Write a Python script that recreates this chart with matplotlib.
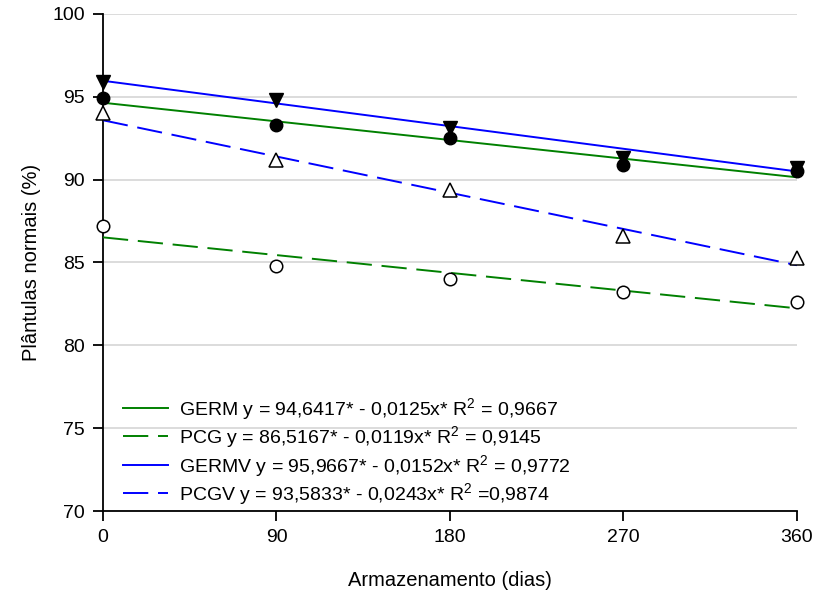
import matplotlib
matplotlib.use('Agg')
import matplotlib.pyplot as plt
import numpy as np

plt.rcParams['font.family'] = ['Liberation Sans', 'DejaVu Sans']
plt.rcParams['mathtext.fontset'] = 'custom'
plt.rcParams['mathtext.rm'] = 'Liberation Sans'
plt.rcParams['mathtext.it'] = 'Liberation Sans:italic'

# storage days
dias = [0, 90, 180, 270, 360]

# observed means (%)
germ = [94.9, 93.3, 92.5, 90.9, 90.5]
pcg = [87.2, 84.8, 84.0, 83.2, 82.6]
germv = [95.9, 94.8, 93.1, 91.3, 90.7]
pcgv = [94.0, 91.2, 89.4, 86.6, 85.3]

# fitted regressions from the legend
names = ['GERM', 'PCG', 'GERMV', 'PCGV']
intercepts = [94.6417, 86.5167, 95.9667, 93.5833]
slopes = [-0.0125, -0.0119, -0.0152, -0.0243]
labels = ['GERM y = 94,6417* - 0,0125x* R$^2$ = 0,9667',
          'PCG y = 86,5167* - 0,0119x* R$^2$ = 0,9145',
          'GERMV y = 95,9667* - 0,0152x* R$^2$ = 0,9772',
          'PCGV y = 93,5833* - 0,0243x* R$^2$ =0,9874']

fig = plt.figure(figsize=(8.14, 5.96), dpi=100)
ax = fig.add_axes([0.1265, 0.1426, 0.8525, 0.834])

line_colors = ['#008000', '#008000', '#0000ff', '#0000ff']
dashed = [False, True, False, True]
xs = np.array([dias[0], dias[-1]])
for i in range(len(names)):
    ys = intercepts[i] + slopes[i] * xs
    l, = ax.plot(xs, ys, color=line_colors[i], lw=1.4, label=labels[i], zorder=3)
    if dashed[i]:
        l.set_dashes((13, 5))

# markers on top
ax.plot(dias, germ, 'o', ms=9, mfc='black', mec='black', ls='none', clip_on=False, zorder=5)
ax.plot(dias, pcg, 'o', ms=9, mfc='white', mec='black', mew=1.1, ls='none', clip_on=False, zorder=5)
ax.plot(dias, germv, 'v', ms=9.5, mfc='black', mec='black', ls='none', clip_on=False, zorder=5)
ax.plot(dias, pcgv, '^', ms=9.5, mfc='white', mec='black', mew=1.1, ls='none', clip_on=False, zorder=5)

ax.set_xlim(0, 360)
ax.set_ylim(70, 100)
ax.set_xticks(dias)
ax.set_yticks([70, 75, 80, 85, 90, 95, 100])
ax.yaxis.grid(True, color='#d9d9d9', lw=1.3)
ax.set_axisbelow(True)
for s in ['top', 'right']:
    ax.spines[s].set_visible(False)
for s in ['left', 'bottom']:
    ax.spines[s].set_linewidth(1.3)
ax.tick_params(axis='both', direction='out', length=7, width=1.3, labelsize=14, pad=6)

ax.set_xlabel('Armazenamento (dias)', fontsize=14.5, labelpad=18)
ax.set_ylabel('Plântulas normais (%)', fontsize=14.5, labelpad=8)

leg = ax.legend(loc='lower left', bbox_to_anchor=(0.029, 0.008), frameon=False,
                fontsize=14, handlelength=2.3, handletextpad=0.6,
                labelspacing=0.13, borderaxespad=0, borderpad=0)

plt.savefig('out.png', dpi=100)
plt.close()
